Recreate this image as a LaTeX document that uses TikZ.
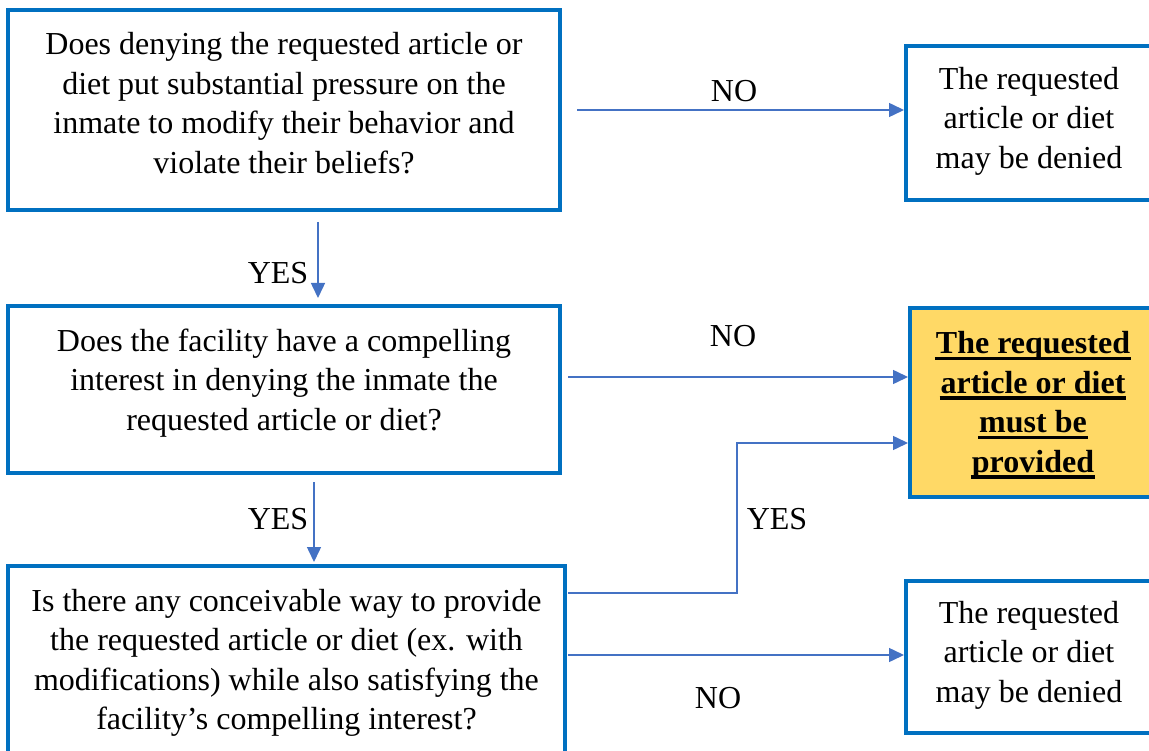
\documentclass[tikz,border=0pt]{standalone}
\usepackage{fontspec}
\setmainfont{Liberation Serif}
\usetikzlibrary{arrows.meta,calc}
\definecolor{boxblue}{HTML}{0070C0}
\definecolor{arrblue}{HTML}{4472C4}
\definecolor{gold}{HTML}{FFD966}
\newcommand\myul[1]{\setbox0\hbox{#1}\rlap{\kern-1pt\vrule height -2.8pt depth 6.5pt width \dimexpr\wd0+2pt\relax}\box0}
\begin{document}
\begin{tikzpicture}[x=1pt,y=-1pt,
  box/.style={draw=boxblue,line width=4pt,rectangle,inner sep=0pt},
  txt/.style={align=center,inner sep=0pt,font=\fontsize{32}{39.5}\selectfont},
  arr/.style={draw=arrblue,line width=1.5pt,-{Triangle[length=15pt,width=14pt]}},
  lbl/.style={font=\fontsize{32}{39.5}\selectfont,inner sep=0pt}]
\useasboundingbox (0,0) rectangle (1149,751);

% boxes
\node[box,minimum width=552pt,minimum height=200pt] (b1) at (284,110) {};
\node[box,minimum width=246pt,minimum height=154pt] (b2) at (1029,123) {};
\node[box,minimum width=552pt,minimum height=167pt] (b3) at (284,389.5) {};
\node[box,fill=gold,minimum width=246pt,minimum height=189pt] (b4) at (1033,402.5) {};
\node[box,minimum width=557pt,minimum height=190pt] (b5) at (286.5,661) {};
\node[box,minimum width=246pt,minimum height=152pt] (b6) at (1029,657) {};

% texts
\node[txt] (t1) at (284,103)
  {Does denying the requested article or\\diet put substantial pressure on the\\inmate to modify their behavior and\\violate their beliefs?};
\node[txt] (t2) at (1029,121)
  {The requested\\article or diet\\may be denied};
\node[txt] (t3) at (284,383)
  {Does the facility have a compelling\\interest in denying the inmate the\\requested article or diet?};
\node[txt,font=\fontsize{32}{39.5}\selectfont\bfseries] (t4) at (1033,405.5)
  {\myul{The requested}\\\myul{article or diet}\\\myul{must be}\\\myul{provided}};
\node[txt] (t5) at (286.5,663)
  {Is there any conceivable way to provide\\the requested article or diet (ex. with\\modifications) while also satisfying the\\facility’s compelling interest?};
\node[txt] (t6) at (1029,655)
  {The requested\\article or diet\\may be denied};

% connectors
\coordinate (n1s) at ($(b1.east)+(15,0)$);
\draw[arr] (n1s) -- (n1s -| b2.west);
\coordinate (y1s) at ($(b1.south)+(34,10)$);
\draw[arr] (y1s) -- ($(y1s |- b3.north)+(0,-6)$);
\coordinate (n2s) at ($(b3.east)+(6,-12.5)$);
\draw[arr] (n2s) -- (n2s -| b4.west);
\coordinate (y2s) at ($(b3.south)+(30,7)$);
\draw[arr] (y2s) -- ($(y2s |- b5.north)+(0,-2)$);
\coordinate (y3s) at ($(b5.east)+(1,-68)$);
\coordinate (y3c) at ($(y3s)+(169,0)$);
\draw[arr] (y3s) -- (y3c) |- ($(b4.west)+(0,40.5)$);
\coordinate (n3s) at ($(b5.east)+(1,-6)$);
\draw[arr] (n3s) -- (n3s -| b6.west);

% labels
\node[lbl] (l1) at (734,91) {NO};
\node[lbl] (l2) at (278,273) {YES};
\node[lbl] (l3) at (733,336) {NO};
\node[lbl] (l4) at (278,519) {YES};
\node[lbl] (l5) at (777,519) {YES};
\node[lbl] (l6) at (718,698) {NO};
\end{tikzpicture}
\end{document}
